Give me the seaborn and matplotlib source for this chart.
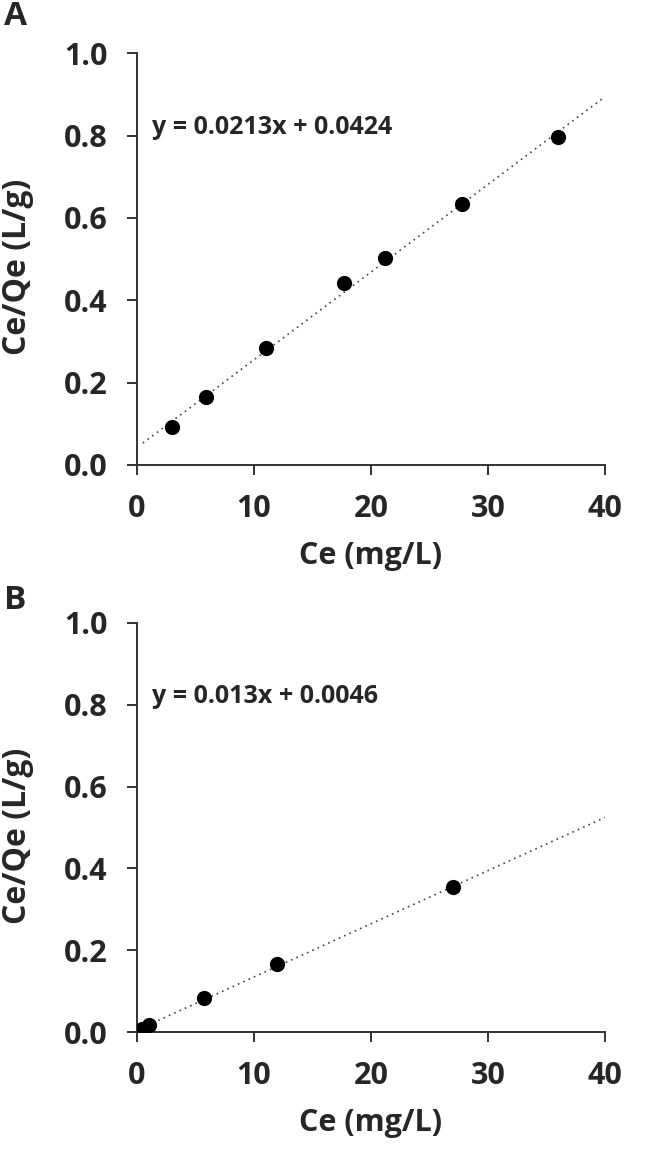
import matplotlib
matplotlib.use("Agg")
import matplotlib.pyplot as plt
import seaborn as sns
import pandas as pd

# === Data ===
ce_a = [3.0, 5.9, 11.0, 17.7, 21.2, 27.8, 36.0]
ratio_a = [0.093, 0.166, 0.284, 0.442, 0.503, 0.635, 0.796]
slope_a, intercept_a = 0.0213, 0.0424
fit_range_a = [0.5, 40]

ce_b = [0.0, 0.4, 1.0, 5.7, 12.0, 27.0]
ratio_b = [0.003, 0.008, 0.018, 0.083, 0.166, 0.355]
slope_b, intercept_b = 0.013, 0.0046
fit_range_b = [0.0, 40]

panel_labels = ["A", "B"]
equations = ["y = 0.0213x + 0.0424", "y = 0.013x + 0.0046"]
x_ticks = [0, 10, 20, 30, 40]
y_ticks = [0.0, 0.2, 0.4, 0.6, 0.8, 1.0]
x_label = "Ce (mg/L)"
y_label = "Ce/Qe (L/g)"

sns.set_style("ticks")
plt.rcParams["font.family"] = ["Open Sans", "DejaVu Sans"]
plt.rcParams["font.weight"] = "bold"


def draw_panel(ax, ce, ratio, slope, intercept, fit_range, eq, letter, fig, top):
    # trend line from the fitted equation shown on the chart
    fit = pd.DataFrame({"x": fit_range,
                        "y": [slope * v + intercept for v in fit_range]})
    sns.lineplot(data=fit, x="x", y="y", ax=ax, color="#444444",
                 linestyle=(0, (1, 2.5)), linewidth=1.2)
    pts = pd.DataFrame({"x": ce, "y": ratio})
    sns.scatterplot(data=pts, x="x", y="y", ax=ax, color="black", s=120,
                    edgecolor="black", linewidth=0, zorder=3)

    ax.set_xlim(0, 40)
    ax.set_ylim(0, 1.0)
    ax.set_xticks(x_ticks)
    ax.set_yticks(y_ticks)
    ax.set_yticklabels([f"{v:.1f}" for v in y_ticks])
    ax.tick_params(axis="both", labelsize=22, length=7, width=1.4,
                   color="#333333")
    ax.tick_params(axis="y", pad=14)
    ax.tick_params(axis="x", pad=14)
    for lab in ax.get_xticklabels() + ax.get_yticklabels():
        lab.set_fontweight("bold")
    for side in ["left", "bottom"]:
        ax.spines[side].set_linewidth(1.4)
        ax.spines[side].set_color("#333333")
    sns.despine(ax=ax)
    ax.set_xlabel(x_label, fontsize=22, fontweight="bold")
    ax.set_ylabel(y_label, fontsize=23, fontweight="bold")
    ax.xaxis.set_label_coords(0.5, -0.185)
    ax.yaxis.set_label_coords(-0.22, 0.48)
    ax.text(1.3, 0.82, eq, fontsize=18, fontweight="bold", va="center")
    fig.text(0.006, top, letter, fontsize=24, fontweight="bold", va="top")


fig = plt.figure(figsize=(6.48, 11.5), dpi=100)
ax_a = fig.add_axes([0.2114, 0.5957, 0.7222, 0.3580])
ax_b = fig.add_axes([0.2114, 0.1026, 0.7222, 0.3557])

draw_panel(ax_a, ce_a, ratio_a, slope_a, intercept_a, fit_range_a,
           equations[0], panel_labels[0], fig, 1.0)
draw_panel(ax_b, ce_b, ratio_b, slope_b, intercept_b, fit_range_b,
           equations[1], panel_labels[1], fig, 0.492)

fig.savefig("out.png", dpi=100)
